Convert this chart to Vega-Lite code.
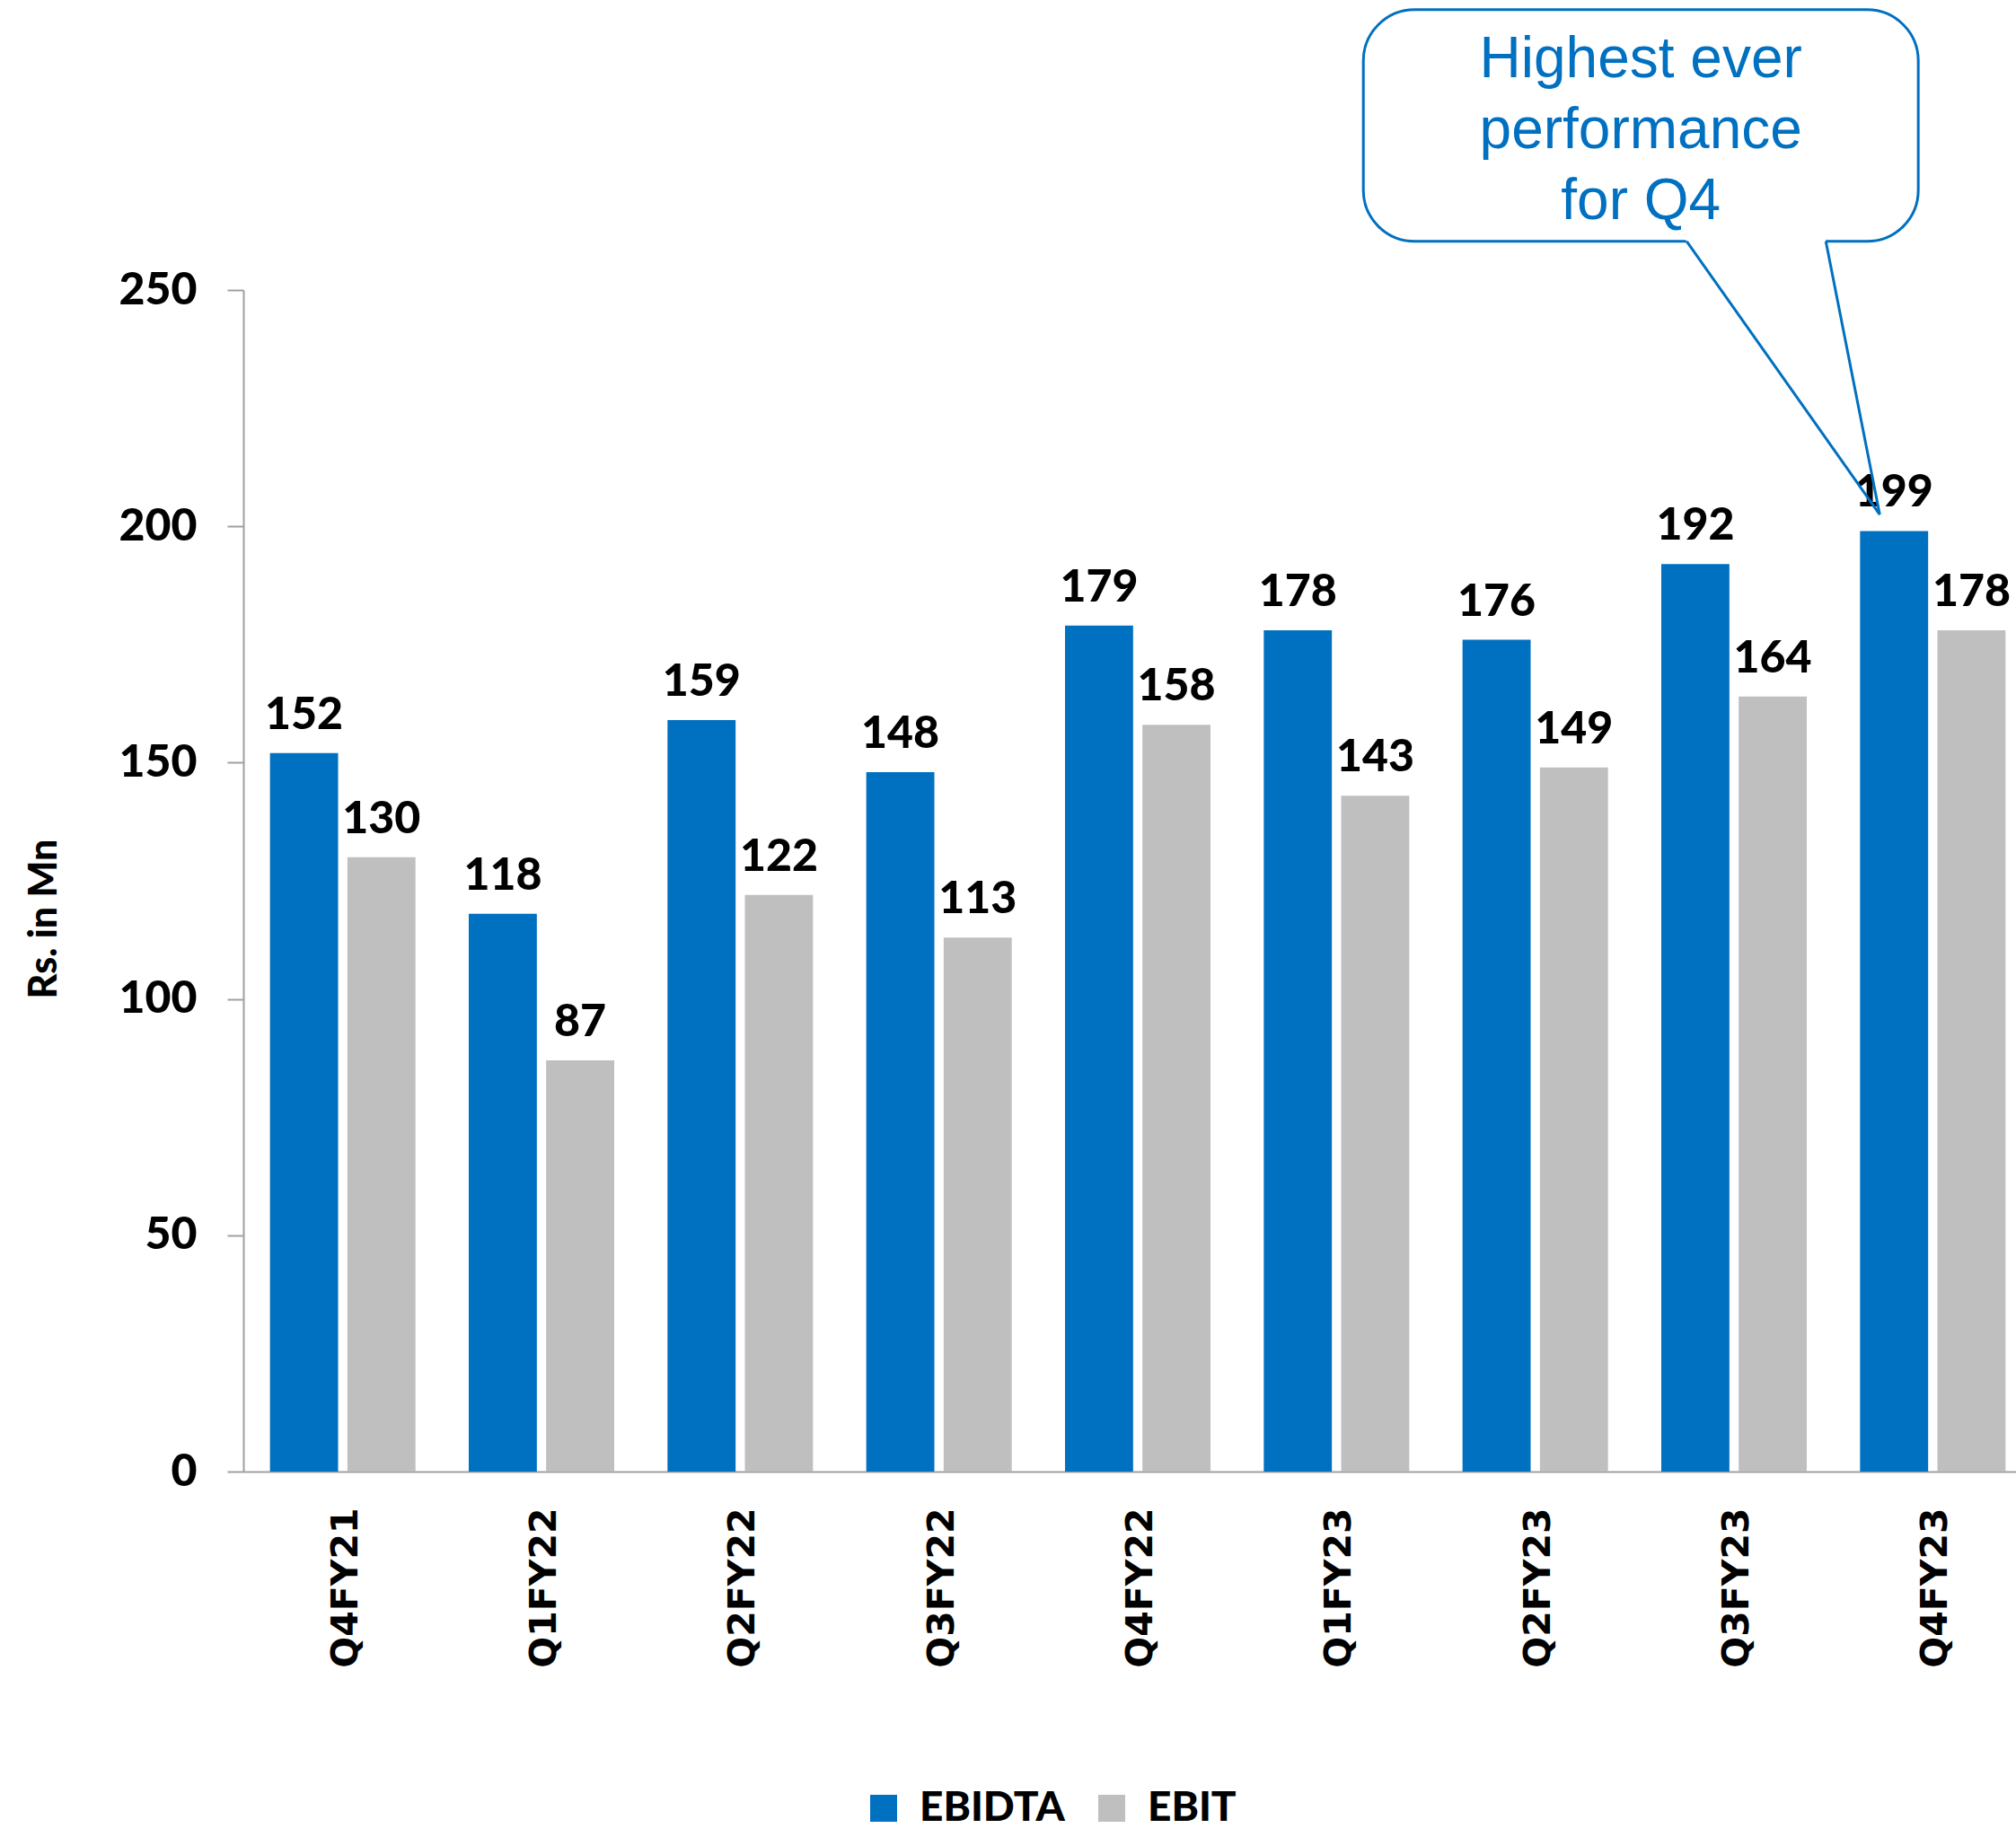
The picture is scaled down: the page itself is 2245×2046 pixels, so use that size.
{
  "$schema": "https://vega.github.io/schema/vega-lite/v6.json",
  "width": 1974,
  "height": 1316,
  "autosize": {"type": "none"},
  "padding": {"left": 271, "top": 323, "right": 0, "bottom": 407},
  "background": "white",
  "config": {"view": {"stroke": null}, "font": "Lato"},
  "datasets": {
    "bars": [
      {"quarter": "Q4FY21", "metric": "EBIDTA", "value": 152},
      {"quarter": "Q4FY21", "metric": "EBIT", "value": 130},
      {"quarter": "Q1FY22", "metric": "EBIDTA", "value": 118},
      {"quarter": "Q1FY22", "metric": "EBIT", "value": 87},
      {"quarter": "Q2FY22", "metric": "EBIDTA", "value": 159},
      {"quarter": "Q2FY22", "metric": "EBIT", "value": 122},
      {"quarter": "Q3FY22", "metric": "EBIDTA", "value": 148},
      {"quarter": "Q3FY22", "metric": "EBIT", "value": 113},
      {"quarter": "Q4FY22", "metric": "EBIDTA", "value": 179},
      {"quarter": "Q4FY22", "metric": "EBIT", "value": 158},
      {"quarter": "Q1FY23", "metric": "EBIDTA", "value": 178},
      {"quarter": "Q1FY23", "metric": "EBIT", "value": 143},
      {"quarter": "Q2FY23", "metric": "EBIDTA", "value": 176},
      {"quarter": "Q2FY23", "metric": "EBIT", "value": 149},
      {"quarter": "Q3FY23", "metric": "EBIDTA", "value": 192},
      {"quarter": "Q3FY23", "metric": "EBIT", "value": 164},
      {"quarter": "Q4FY23", "metric": "EBIDTA", "value": 199},
      {"quarter": "Q4FY23", "metric": "EBIT", "value": 178}
    ],
    "box": [{"bx": 5.635, "bx2": 8.427, "by": 309.3, "by2": 260.3}],
    "mask": [
      {"mx": 7.351, "mx2": 7.987, "my": 255},
      {"mx": 7.233, "mx2": 7.954, "my": 262}
    ],
    "pointer": [
      {"px": 7.262, "py": 260.3, "o": 1},
      {"px": 8.233, "py": 202.5, "o": 2},
      {"px": 7.962, "py": 260.3, "o": 3}
    ],
    "note": [{"nx": 7.031, "ny": 295, "label": "Highest ever\nperformance\nfor Q4"}]
  },
  "layer": [
    {
      "data": {"name": "bars"},
      "encoding": {
        "x": {
          "field": "quarter",
          "type": "nominal",
          "sort": null,
          "scale": {"paddingInner": 0.268, "paddingOuter": 0.134, "range": [0, 1992]},
          "axis": {
            "title": null,
            "labelAngle": -90,
            "labelFont": "DejaVu Sans",
            "labelFontSize": 41,
            "labelFontWeight": "bold",
            "labelColor": "black",
            "ticks": false,
            "labelPadding": 40,
            "labelOffset": 4,
            "labelAlign": "right",
            "labelBaseline": "middle",
            "domainColor": "#a0a0a0",
            "domainWidth": 2
          }
        },
        "xOffset": {
          "field": "metric",
          "type": "nominal",
          "sort": ["EBIDTA", "EBIT"],
          "scale": {"paddingInner": 0.12}
        },
        "y": {
          "field": "value",
          "type": "quantitative",
          "scale": {"domain": [0, 250], "nice": false},
          "axis": {
            "values": [0, 50, 100, 150, 200, 250],
            "grid": false,
            "tickSize": 18,
            "tickWidth": 2,
            "tickColor": "#a0a0a0",
            "domainColor": "#a0a0a0",
            "domainWidth": 2,
            "labelFont": "Lato",
            "labelFontSize": 50,
            "labelFontWeight": 900,
            "labelColor": "black",
            "labelPadding": 34,
            "title": "Rs. in Mn",
            "titleFont": "Lato",
            "titleFontSize": 43,
            "titleFontWeight": 900,
            "titleColor": "black",
            "titleX": -222,
            "titleY": 700,
            "titleAngle": -90,
            "titleAlign": "center",
            "titleBaseline": "middle"
          }
        }
      },
      "layer": [
        {
          "mark": {"type": "bar"},
          "encoding": {
            "color": {
              "field": "metric",
              "type": "nominal",
              "scale": {"domain": ["EBIDTA", "EBIT"], "range": ["#0070C0", "#BFBFBF"]},
              "legend": {
                "orient": "none",
                "legendX": 690,
                "legendY": 1668,
                "direction": "horizontal",
                "title": null,
                "symbolType": "square",
                "symbolSize": 900,
                "symbolStrokeWidth": 0,
                "labelFont": "Lato",
                "labelFontSize": 46,
                "labelFontWeight": 900,
                "labelColor": "black",
                "labelLimit": 0,
                "labelOffset": 17,
                "columnPadding": 29
              }
            }
          }
        },
        {
          "mark": {
            "type": "text",
            "font": "Lato",
            "fontSize": 50,
            "fontWeight": 900,
            "color": "black",
            "baseline": "alphabetic",
            "dy": -27
          },
          "encoding": {"text": {"field": "value", "type": "quantitative"}}
        }
      ]
    },
    {
      "layer": [
        {
          "data": {"name": "box"},
          "mark": {"type": "rect", "fill": "white", "stroke": "#0070C0", "strokeWidth": 3, "cornerRadius": 57},
          "encoding": {
            "x": {"field": "bx", "type": "quantitative", "scale": {"domain": [0, 9], "nice": false, "zero": false, "range": [0, 1992]}, "axis": null},
            "x2": {"field": "bx2"},
            "y": {"field": "by", "type": "quantitative", "scale": {"domain": [0, 250], "nice": false}, "axis": null},
            "y2": {"field": "by2"}
          }
        },
        {
          "data": {"name": "mask"},
          "mark": {"type": "area", "orient": "horizontal", "fill": "white"},
          "encoding": {
            "y": {"field": "my", "type": "quantitative", "scale": {"domain": [0, 250], "nice": false}, "axis": null},
            "x": {"field": "mx", "type": "quantitative", "scale": {"domain": [0, 9], "nice": false, "zero": false, "range": [0, 1992]}, "axis": null},
            "x2": {"field": "mx2"}
          }
        },
        {
          "data": {"name": "pointer"},
          "mark": {"type": "line", "stroke": "#0070C0", "strokeWidth": 3},
          "encoding": {
            "x": {"field": "px", "type": "quantitative", "scale": {"domain": [0, 9], "nice": false, "zero": false, "range": [0, 1992]}, "axis": null},
            "y": {"field": "py", "type": "quantitative", "scale": {"domain": [0, 250], "nice": false}, "axis": null},
            "order": {"field": "o"}
          }
        },
        {
          "data": {"name": "note"},
          "mark": {
            "type": "text",
            "font": "Liberation Sans",
            "fontSize": 64,
            "color": "#0070C0",
            "align": "center",
            "baseline": "alphabetic",
            "lineBreak": "\n",
            "lineHeight": 79
          },
          "encoding": {
            "x": {"field": "nx", "type": "quantitative", "scale": {"domain": [0, 9], "nice": false, "zero": false, "range": [0, 1992]}, "axis": null},
            "y": {"field": "ny", "type": "quantitative", "scale": {"domain": [0, 250], "nice": false}, "axis": null},
            "text": {"field": "label"}
          }
        }
      ]
    }
  ],
  "resolve": {"scale": {"x": "independent", "y": "independent"}, "axis": {"x": "independent", "y": "independent"}}
}
